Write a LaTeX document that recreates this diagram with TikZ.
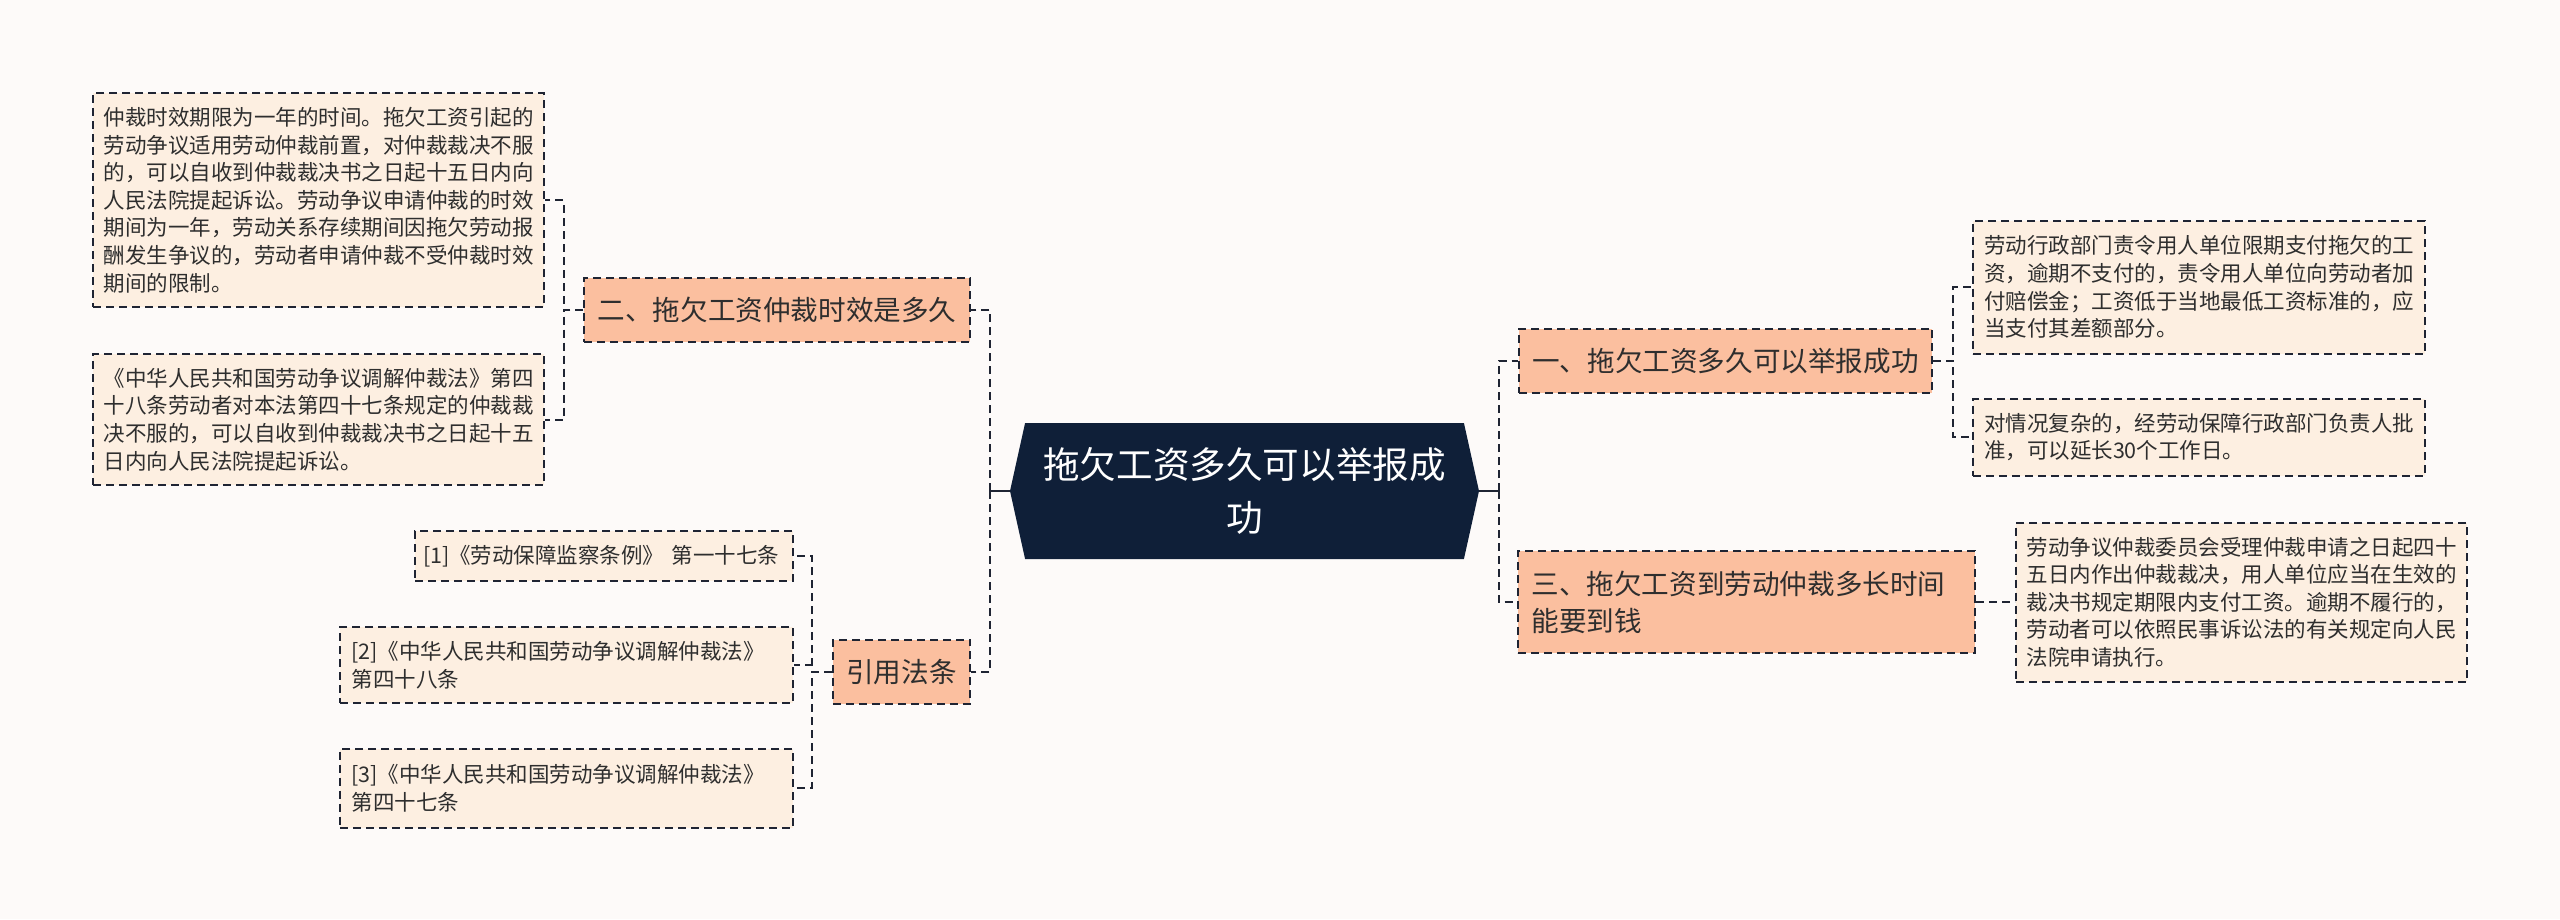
\documentclass[tikz,border=0pt]{standalone}
\usepackage{fontspec}
\newfontfamily\cjk{Noto Sans CJK SC}
\usetikzlibrary{shapes.symbols}
\definecolor{bgcol}{HTML}{FDFAF9}
\definecolor{leaffill}{HTML}{FDEFE1}
\definecolor{branchfill}{HTML}{FBBF9F}
\definecolor{rootfill}{HTML}{0F1F38}
\definecolor{linecol}{HTML}{1F2433}
\definecolor{txtcol}{HTML}{2E2E2E}
\begin{document}
\begin{tikzpicture}[x=1pt,y=-1pt,
  leaf/.style={rectangle,draw=linecol,fill=leaffill,line width=2pt,
    dash pattern=on 8pt off 5pt,align=left,text=txtcol,
    inner xsep=10.5pt,inner ysep=0pt,
    minimum width=451pt,
    text width=430pt,
    font=\cjk\fontsize{21.5pt}{27.6pt}\selectfont},
  branch/.style={rectangle,draw=linecol,fill=branchfill,line width=2pt,
    dash pattern=on 8pt off 5pt,align=left,text=txtcol,
    inner xsep=13.5pt,inner ysep=0pt,
    minimum height=64pt,
    font=\cjk\fontsize{27.6pt}{37pt}\selectfont},
  root/.style={signal,signal to=west and east,signal pointer angle=155,
    fill=rootfill,text=white,align=center,
    minimum width=469pt,minimum height=136pt,
    font=\cjk\fontsize{36.6pt}{53pt}\selectfont},
  link/.style={draw=linecol,line width=2pt,dash pattern=on 8pt off 5pt},
  stem/.style={draw=linecol,line width=2pt}]
  \useasboundingbox (0,0) rectangle (2560,919);
  \fill[bgcol] (0,0) rectangle (2560,919);
  % centre
  \node[root] (root) at (1244.5,491) {拖欠工资多久可以举报成\\功};
  % left side
  \node[branch] (b2) at (777,310) {二、拖欠工资仲裁时效是多久};
  \node[branch] (b4) at (901.5,672) {引用法条};
  \node[leaf,minimum height=214pt] (c1) at (318.5,200) {仲裁时效期限为一年的时间。拖欠工资引起的\\劳动争议适用劳动仲裁前置，对仲裁裁决不服\\的，可以自收到仲裁裁决书之日起十五日内向\\人民法院提起诉讼。劳动争议申请仲裁的时效\\期间为一年，劳动关系存续期间因拖欠劳动报\\酬发生争议的，劳动者申请仲裁不受仲裁时效\\期间的限制。};
  \node[leaf,minimum height=131pt] (c2) at (318.5,419.5) {《中华人民共和国劳动争议调解仲裁法》第四\\十八条劳动者对本法第四十七条规定的仲裁裁\\决不服的，可以自收到仲裁裁决书之日起十五\\日内向人民法院提起诉讼。};
  \node[leaf,minimum height=50pt,minimum width=378pt,text width=362pt,inner xsep=8pt] (r1) at (604,556) {[1]《劳动保障监察条例》 第一十七条};
  \node[leaf,minimum height=76pt,minimum width=453pt] (r2) at (566.5,665) {[2]《中华人民共和国劳动争议调解仲裁法》\\第四十八条};
  \node[leaf,minimum height=79pt,minimum width=453pt] (r3) at (566.5,788) {[3]《中华人民共和国劳动争议调解仲裁法》\\第四十七条};
  % right side
  \node[branch] (b1) at (1725.5,361) {一、拖欠工资多久可以举报成功};
  \node[branch,minimum height=102pt,text width=430pt] (b3) at (1746.5,602) {三、拖欠工资到劳动仲裁多长时间\\能要到钱};
  \node[leaf,minimum height=133pt,minimum width=452pt] (d1) at (2199,287) {劳动行政部门责令用人单位限期支付拖欠的工\\资，逾期不支付的，责令用人单位向劳动者加\\付赔偿金；工资低于当地最低工资标准的，应\\当支付其差额部分。};
  \node[leaf,minimum height=77pt,minimum width=452pt] (d2) at (2199,437) {对情况复杂的，经劳动保障行政部门负责人批\\准，可以延长30个工作日。};
  \node[leaf,minimum height=159pt] (e1) at (2241.5,602) {劳动争议仲裁委员会受理仲裁申请之日起四十\\五日内作出仲裁裁决，用人单位应当在生效的\\裁决书规定期限内支付工资。逾期不履行的，\\劳动者可以依照民事诉讼法的有关规定向人民\\法院申请执行。};
  % connectors
  \draw[stem] (root.west) -- ++(-19.5,0) coordinate (lj);
  \draw[link] (lj) |- (b2.east);
  \draw[link] (lj) |- (b4.east);
  \draw[stem] (root.east) -- ++(19.5,0) coordinate (rj);
  \draw[link] (rj) |- (b1.west);
  \draw[link] (rj) |- (b3.west);
  \draw[link] (b2.west) -- ++(-19.5,0) |- (c1.east);
  \draw[link] (b2.west) -- ++(-19.5,0) |- (c2.east);
  \draw[link] (b4.west) -- ++(-20,0) |- (r1.east);
  \draw[link] (b4.west) -- ++(-20,0) |- (r2.east);
  \draw[link] (b4.west) -- ++(-20,0) |- (r3.east);
  \draw[link] (b1.east) -- ++(20,0) |- (d1.west);
  \draw[link] (b1.east) -- ++(20,0) |- (d2.west);
  \draw[link] (b3.east) -- (e1.west);
\end{tikzpicture}
\end{document}
